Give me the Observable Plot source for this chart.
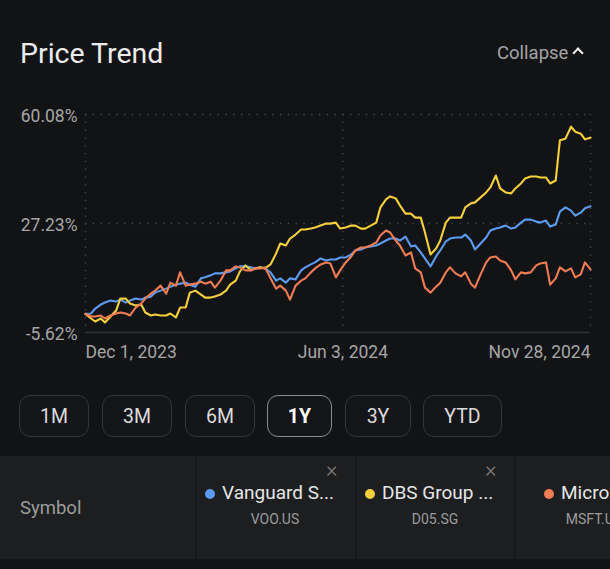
<!DOCTYPE html>
<html>
<head>
<meta charset="utf-8">
<script src="https://cdn.jsdelivr.net/npm/d3@7"></script>
<script src="https://cdn.jsdelivr.net/npm/@observablehq/plot@0.6"></script>
<style>
  html, body { margin: 0; padding: 0; background: #121315; }
  body { width: 610px; height: 569px; position: relative; overflow: hidden; font-family: Roboto, "Noto Sans", sans-serif; }
  .abs { position: absolute; white-space: nowrap; }
  #title { left: 20px; top: 37px; font-size: 28.5px; color: #ececec; }
  #collapse { left: 497px; top: 42px; font-size: 18.5px; color: #a4a4a4; }
  #caret { position: absolute; left: 574px; top: 49px; width: 6px; height: 6px; border-left: 2.2px solid #f0f0f0; border-top: 2.2px solid #f0f0f0; transform: rotate(45deg); }
  #chart { position: absolute; left: 0; top: 90px; }
  .btn { position: absolute; top: 395px; height: 42px; border: 1px solid #34353a; border-radius: 11px; box-sizing: border-box;
         color: #dcdcdc; font-size: 19.5px; display: flex; align-items: center; justify-content: center; background: #141518; }
  .btn.sel { border-color: #8a8b8f; color: #ffffff; font-weight: bold; }
  #table { position: absolute; left: 0; top: 456px; width: 610px; height: 103px; background: #1d1e20; }
  .div { position: absolute; top: 456px; width: 2px; height: 103px; background: #161719; }
  #bottom { position: absolute; left: 0; top: 559px; width: 610px; height: 10px; background: #121315; }
  .sym { left: 20px; top: 497px; font-size: 18.5px; color: #9c9c9c; }
  .name { font-size: 19px; color: #e6e6e6; top: 481px; }
  .code { font-size: 14px; color: #9c9c9c; top: 511px; transform: translateX(-50%); }
  .dot { position: absolute; width: 10px; height: 10px; border-radius: 50%; top: 489px; }
  .x { font-size: 22px; color: #7a7a7a; top: 457px; font-weight: 300; }
</style>
</head>
<body>
<div class="abs" id="title">Price Trend</div>
<div class="abs" id="collapse">Collapse</div>
<div id="caret"></div>
<div id="chart"></div>
<div id="buttons"></div>
<div id="table"></div>
<div id="bottom"></div>
<div id="legend"></div>
<script>
// ---- data (percent change since Dec 1, 2023) ----
const dates = [
"2023-12-01","2023-12-05","2023-12-08","2023-12-12","2023-12-15","2023-12-19","2023-12-23","2023-12-26","2023-12-30",
"2024-01-02","2024-01-06","2024-01-10","2024-01-13","2024-01-17","2024-01-20","2024-01-24","2024-01-28","2024-01-31",
"2024-02-04","2024-02-07","2024-02-11","2024-02-14","2024-02-18","2024-02-22","2024-02-25","2024-02-29",
"2024-03-03","2024-03-07","2024-03-11","2024-03-14","2024-03-18","2024-03-21","2024-03-25","2024-03-29",
"2024-04-01","2024-04-05","2024-04-08","2024-04-12","2024-04-16","2024-04-19","2024-04-23","2024-04-26","2024-04-30",
"2024-05-04","2024-05-07","2024-05-11","2024-05-14","2024-05-18","2024-05-22","2024-05-25","2024-05-29",
"2024-06-01","2024-06-05","2024-06-09","2024-06-12","2024-06-16","2024-06-19","2024-06-23","2024-06-27","2024-06-30",
"2024-07-04","2024-07-07","2024-07-11","2024-07-14","2024-07-18","2024-07-22","2024-07-25","2024-07-29",
"2024-08-01","2024-08-05","2024-08-09","2024-08-12","2024-08-16","2024-08-19","2024-08-23","2024-08-27","2024-08-30",
"2024-09-03","2024-09-06","2024-09-10","2024-09-14","2024-09-17","2024-09-21","2024-09-24","2024-09-28",
"2024-10-02","2024-10-05","2024-10-09","2024-10-12","2024-10-16","2024-10-20","2024-10-23","2024-10-27","2024-10-30",
"2024-11-03","2024-11-06","2024-11-10","2024-11-14","2024-11-17","2024-11-21","2024-11-24","2024-11-28"];

const vooValues = [
0,0.1,1.6,2.8,3.4,4.0,3.7,4.3,3.4,4.0,4.6,4.3,4.9,5.2,6.4,7.0,7.6,8.2,8.8,9.1,9.4,8.8,8.2,10.7,11.0,11.6,
12.2,12.2,12.5,12.8,13.7,14.3,14.3,14.0,13.7,14.0,13.7,12.5,10.0,10.7,9.4,10.7,10.4,13.1,14.0,14.9,15.5,16.7,16.1,16.4,
16.4,17.0,17.0,17.9,19.1,19.4,20.0,20.3,20.6,21.2,22.1,22.7,22.7,22.1,23.3,20.3,20.6,18.5,16.7,14.3,17.3,19.1,21.8,22.7,
23.0,23.0,23.9,22.1,19.4,21.2,23.0,25.1,25.7,26.0,26.6,25.7,26.0,27.5,28.4,28.4,27.8,27.5,28.1,26.3,26.9,30.8,32.1,31.1,
29.6,30.5,31.8,32.4];

const d05Values = [
0,-1.4,-2.3,-1.4,-2.6,-0.8,1.0,4.6,4.6,3.1,2.5,2.8,0.4,-0.5,-0.2,-0.5,-0.5,0.1,-1.1,1.9,1.9,6.4,7.0,5.8,4.9,4.9,
5.2,5.8,7.0,8.8,10.0,12.8,14.6,13.1,13.7,14.0,13.7,14.9,18.2,21.2,20.6,22.7,23.9,25.4,25.4,25.7,26.0,26.6,27.2,27.2,
27.5,25.7,26.0,26.6,26.6,25.7,25.7,26.6,27.5,32.1,34.5,35.4,34.8,32.7,30.2,30.2,29.0,29.0,24.5,17.9,19.7,22.1,27.5,29.0,
29.0,29.0,32.1,33.3,33.6,35.1,36.6,38.1,41.7,37.8,36.6,36.3,37.8,39.3,40.8,41.4,41.4,41.1,41.1,39.3,40.2,52.3,52.8,56.4,
54.9,54.3,52.6,53.1];

const msftValues = [
0,-0.8,-0.8,-0.5,-1.4,-0.5,0.1,0.4,0.1,-0.5,1.9,3.1,4.6,6.1,7.0,8.5,6.1,9.4,8.5,12.5,8.5,8.8,9.1,9.7,9.1,9.7,
7.9,10.0,13.1,13.1,14.3,14.0,13.1,13.1,13.7,13.7,14.0,10.7,7.6,8.5,7.0,4.3,8.5,10.0,10.7,12.5,13.7,14.9,15.5,15.2,
11.0,13.1,15.5,17.3,19.1,20.0,20.0,20.6,21.5,23.6,25.1,24.5,22.1,20.6,17.6,18.5,13.7,12.5,7.9,6.4,8.2,9.4,12.5,14.0,
12.2,11.3,12.5,9.1,7.9,11.9,15.5,17.0,17.3,16.1,15.5,13.1,10.4,12.5,12.2,12.5,14.6,15.2,15.5,8.8,10.7,14.0,12.8,13.7,
11.0,11.9,15.5,13.4];

const seriesNames = ["Vanguard S...", "DBS Group ...", "Micro"];
const seriesCodes = ["VOO.US", "D05.SG", "MSFT.US"];
const seriesColors = ["#5b9cf2", "#f6d03c", "#f27d55"];
const yTicks = [-5.62, 27.23, 60.08];
const xTickDates = ["2023-12-01", "2024-06-03", "2024-11-28"];
const xTickLabels = ["Dec 1, 2023", "Jun 3, 2024", "Nov 28, 2024"];
const ranges = ["1M", "3M", "6M", "1Y", "3Y", "YTD"];
const selectedRange = "1Y";

// ---- build table ----
const parse = d3.utcParse("%Y-%m-%d");
const allValues = [vooValues, d05Values, msftValues];
const rows = [];
allValues.forEach((vals, s) => vals.forEach((v, i) => rows.push({date: parse(dates[i]), value: v, series: seriesCodes[s]})));
const xt = xTickDates.map(parse);
const labelOf = new Map(xt.map((d, i) => [+d, xTickLabels[i]]));
const fmt = d => labelOf.get(+d);

const gridStyle = {stroke: "#4a4b4f", strokeOpacity: 1, strokeWidth: 1.3, strokeDasharray: "1.3,6.5"};
const axisFont = {fontSize: 17.5, fill: "#a6a6a6"};

const chart = Plot.plot({
  width: 610, height: 280,
  marginLeft: 85, marginRight: 20, marginTop: 24, marginBottom: 38,
  style: {background: "transparent", fontFamily: "Roboto, sans-serif", color: "#a6a6a6", overflow: "visible"},
  x: {type: "utc", domain: [xt[0], xt[2]]},
  y: {domain: [yTicks[0], yTicks[2]]},
  color: {domain: seriesCodes, range: seriesColors},
  marks: [
    Plot.gridY([yTicks[1], yTicks[2]], gridStyle),
    Plot.gridX(xt, gridStyle),
    Plot.ruleY([yTicks[0]], {stroke: "#2f3034", strokeWidth: 1.5}),
    Plot.axisY(yTicks, {tickSize: 0, tickPadding: 8, tickFormat: d => d.toFixed(2) + "%", label: null, ...axisFont, dy: 2}),
    Plot.axisX([xt[0]], {tickSize: 0, tickPadding: 13, tickFormat: fmt, textAnchor: "start", label: null, ...axisFont}),
    Plot.axisX([xt[1]], {tickSize: 0, tickPadding: 13, tickFormat: fmt, textAnchor: "middle", label: null, ...axisFont}),
    Plot.axisX([xt[2]], {tickSize: 0, tickPadding: 13, tickFormat: fmt, textAnchor: "end", label: null, ...axisFont}),
    Plot.line(rows, {x: "date", y: "value", z: "series", stroke: "series", strokeWidth: 2.1, strokeLinejoin: "round"})
  ]
});
document.getElementById("chart").appendChild(chart);

// ---- range buttons ----
const btnLefts = [19, 102, 185, 267, 345, 423];
const btnWidths = [70, 70, 70, 65, 66, 79];
const bc = document.getElementById("buttons");
ranges.forEach((r, i) => {
  const b = document.createElement("div");
  b.className = "btn" + (r === selectedRange ? " sel" : "");
  b.style.left = btnLefts[i] + "px";
  b.style.width = btnWidths[i] + "px";
  b.textContent = r;
  bc.appendChild(b);
});

// ---- symbol table ----
const lg = document.getElementById("legend");
[195, 355, 514].forEach(x => { const d = document.createElement("div"); d.className = "div"; d.style.left = x + "px"; lg.appendChild(d); });
const s = document.createElement("div"); s.className = "abs sym"; s.textContent = "Symbol"; lg.appendChild(s);
const dotX = [205, 365, 544], nameX = [222, 382, 561], codeX = [275, 435, 594], closeX = [326, 485, null];
seriesNames.forEach((n, i) => {
  const dot = document.createElement("div"); dot.className = "dot"; dot.style.left = dotX[i] + "px"; dot.style.background = seriesColors[i]; lg.appendChild(dot);
  const t = document.createElement("div"); t.className = "abs name"; t.style.left = nameX[i] + "px"; t.textContent = n; lg.appendChild(t);
  const c = document.createElement("div"); c.className = "abs code"; c.style.left = codeX[i] + "px"; c.textContent = seriesCodes[i]; lg.appendChild(c);
  if (closeX[i] !== null) { const x = document.createElement("div"); x.className = "abs x"; x.style.left = closeX[i] + "px"; x.textContent = "×"; lg.appendChild(x); }
});
</script>
</body>
</html>
